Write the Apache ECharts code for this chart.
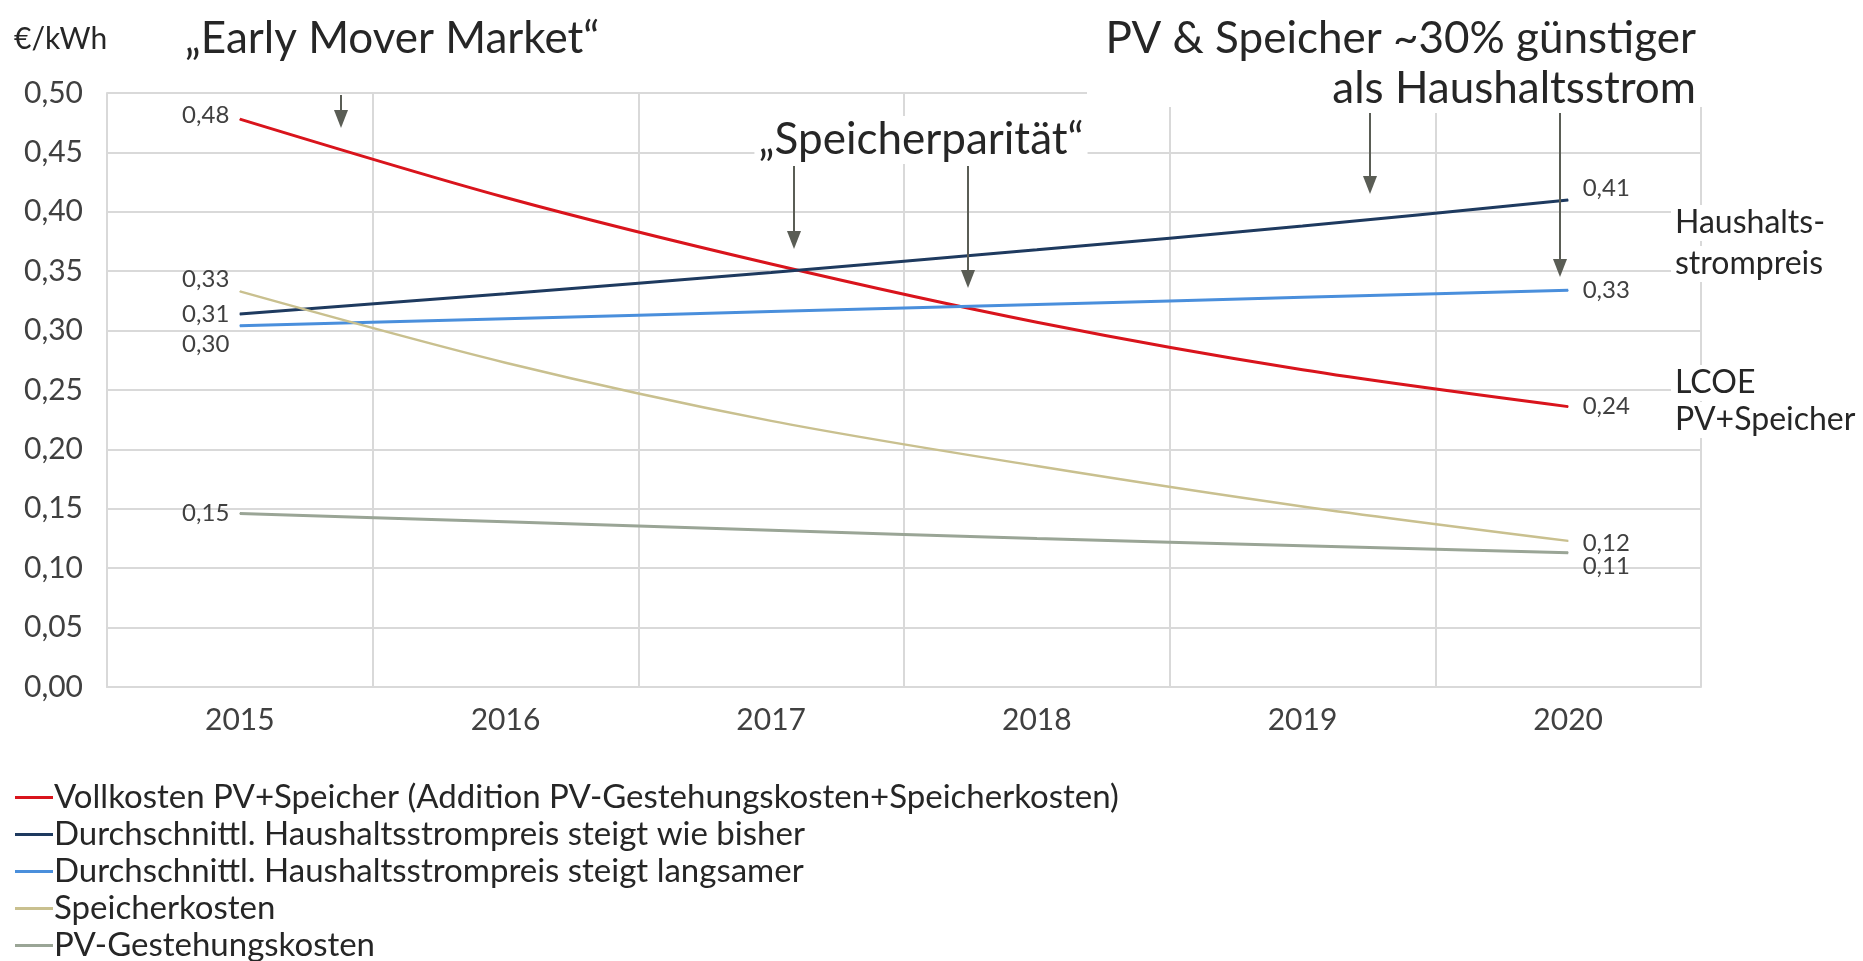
<!DOCTYPE html>
<html>
<head>
<meta charset="utf-8">
<script src="https://cdn.jsdelivr.net/npm/echarts@6/dist/echarts.min.js"></script>
<style>
  html, body { margin: 0; padding: 0; background: #fff; }
  #chart { width: 1863px; height: 961px; }
</style>
</head>
<body>
<div id="chart"></div>
<script>
const years = ['2015', '2016', '2017', '2018', '2019', '2020']
const vollkosten = [0.478, 0.412, 0.356, 0.307, 0.267, 0.236]
const haushaltBisher = [0.314, 0.331, 0.349, 0.368, 0.388, 0.410]
const haushaltLangsamer = [0.304, 0.310, 0.316, 0.322, 0.328, 0.334]
const speicherkosten = [0.333, 0.273, 0.224, 0.186, 0.152, 0.123]
const pvKosten = [0.146, 0.139, 0.132, 0.125, 0.119, 0.113]
const yTicks = { min : 0, max : 0.5, interval : 0.05 }

const FONT = 'Lato'
const fmt = v => v.toFixed( 2 ).replace( '.', ',' )

// label only first and last point
const endLabels = ( data, firstOffset, lastOffset ) => data.map( ( v, i ) => {
  if ( i === 0 ) {
    return { value : v, label : { show : true, position : 'left', distance : 10, offset : firstOffset } }
  }
  if ( i === data.length - 1 ) {
    return { value : v, label : { show : true, position : 'right', distance : 14, offset : lastOffset } }
  }
  return v
} )

const lineSeries = ( name, color, data, firstOffset, lastOffset, width ) => ( {
  name : name,
  type : 'line',
  smooth : 0.3,
  symbol : 'circle',
  symbolSize : 1,
  showSymbol : true,
  lineStyle : { color : color, width : width || 3 },
  itemStyle : { color : color },
  label : {
    show : false,
    fontFamily : FONT,
    fontSize : 24,
    color : '#404040',
    formatter : p => fmt( p.value )
  },
  data : endLabels( data, firstOffset, lastOffset )
} )

const arrow = ( x, y1, y2 ) => ( {
  type : 'group',
  z : 20,
  children : [
    { type : 'line', z : 20, shape : { x1 : x, y1 : y1, x2 : x, y2 : y2 - 14 }, style : { stroke : '#5a5d55', lineWidth : 2 } },
    { type : 'polygon', z : 20, shape : { points : [[x - 7, y2 - 18], [x + 7, y2 - 18], [x, y2]] }, style : { fill : '#5a5d55' } }
  ]
} )

const textBox = ( x, y, text, size, align ) => ( {
  type : 'text',
  x : x,
  y : y,
  z : 10,
  style : {
    text : text,
    fontFamily : FONT,
    fontSize : size,
    fill : '#262626',
    align : align || 'left',
    verticalAlign : 'middle',
    backgroundColor : '#fff',
    padding : [2, 4]
  }
} )

const chart = echarts.init( document.getElementById( 'chart' ) )
chart.setOption( {
  backgroundColor : '#fff',
  animation : false,
  grid : { left : 107, right : 162, top : 93, bottom : 274 },
  legend : {
    orient : 'vertical',
    left : 10,
    top : 776,
    height : 240,
    icon : 'rect',
    itemWidth : 38,
    itemHeight : 3,
    itemGap : 4,
    textStyle : { fontFamily : FONT, fontSize : 33, color : '#262626', padding : [0, 0, 0, -4] },
    data : [
      'Vollkosten PV+Speicher (Addition PV-Gestehungskosten+Speicherkosten)',
      'Durchschnittl. Haushaltsstrompreis steigt wie bisher',
      'Durchschnittl. Haushaltsstrompreis steigt langsamer',
      'Speicherkosten',
      'PV-Gestehungskosten'
    ]
  },
  xAxis : {
    type : 'category',
    boundaryGap : true,
    data : years,
    axisLine : { lineStyle : { color : '#d9d9d9', width : 2 } },
    axisTick : { show : false },
    axisLabel : { fontFamily : FONT, fontSize : 30, color : '#404040', margin : 18 },
    splitLine : { show : true, lineStyle : { color : '#d9d9d9', width : 2 } }
  },
  yAxis : {
    type : 'value',
    min : yTicks.min,
    max : yTicks.max,
    interval : yTicks.interval,
    axisLine : { show : true, lineStyle : { color : '#d9d9d9', width : 2 } },
    axisTick : { show : false },
    axisLabel : { fontFamily : FONT, fontSize : 30, color : '#404040', margin : 24, formatter : v => fmt( v ) },
    splitLine : { lineStyle : { color : '#d9d9d9', width : 2 } }
  },
  series : [
    lineSeries( 'Vollkosten PV+Speicher (Addition PV-Gestehungskosten+Speicherkosten)', '#d9141c', vollkosten, [0, -4], [0, 0], 3 ),
    lineSeries( 'Durchschnittl. Haushaltsstrompreis steigt wie bisher', '#1e3a5f', haushaltBisher, [0, 0], [0, -12], 3 ),
    lineSeries( 'Durchschnittl. Haushaltsstrompreis steigt langsamer', '#4a8fdc', haushaltLangsamer, [0, 18], [0, 0], 3 ),
    lineSeries( 'Speicherkosten', '#c9c08f', speicherkosten, [0, -12], [0, 2], 2.5 ),
    lineSeries( 'PV-Gestehungskosten', '#9aa596', pvKosten, [0, 0], [0, 14], 3 )
  ],
  graphic : [
    { type : 'rect', z : 5, shape : { x : 1087, y : 0, width : 620, height : 107 }, style : { fill : '#fff' } },
    { type : 'text', x : 14, y : 39, style : { text : '€/kWh', fontFamily : FONT, fontSize : 30, fill : '#262626', verticalAlign : 'middle' } },
    textBox( 392, 39, '„Early Mover Market“', 44, 'center' ),
    arrow( 341, 95, 128 ),
    textBox( 921, 140, '„Speicherparität“', 44, 'center' ),
    arrow( 794, 166, 249 ),
    arrow( 968, 166, 288 ),
    textBox( 1700, 39, 'PV & Speicher ~30% günstiger', 44, 'right' ),
    textBox( 1700, 89, 'als Haushaltsstrom', 44, 'right' ),
    arrow( 1370, 113, 194 ),
    arrow( 1560, 113, 277 ),
    textBox( 1671, 223, 'Haushalts-', 32, 'left' ),
    textBox( 1671, 264, 'strompreis', 32, 'left' ),
    textBox( 1671, 383, 'LCOE', 32, 'left' ),
    textBox( 1671, 420, 'PV+Speicher', 32, 'left' )
  ]
} )
</script>
</body>
</html>
